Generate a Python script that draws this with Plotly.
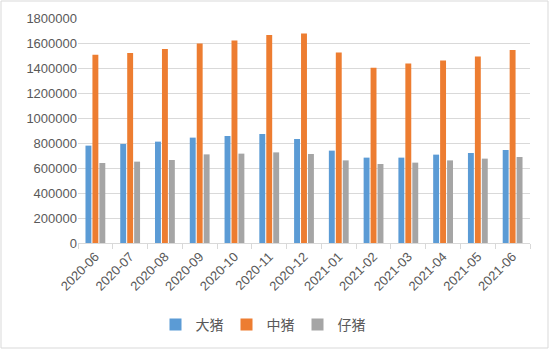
import plotly.graph_objects as go

months = ["2020-06", "2020-07", "2020-08", "2020-09", "2020-10", "2020-11", "2020-12",
          "2021-01", "2021-02", "2021-03", "2021-04", "2021-05", "2021-06"]
da_zhu = [779000, 792000, 811000, 843000, 856000, 872000, 832000,
          739000, 683000, 683000, 707000, 720000, 744000]
zhong_zhu = [1507000, 1520000, 1552000, 1597000, 1621000, 1664000, 1677000,
             1525000, 1403000, 1437000, 1461000, 1493000, 1544000]
zi_zhu = [640000, 651000, 664000, 709000, 715000, 725000, 712000,
          661000, 632000, 643000, 661000, 675000, 688000]
series_names = ["大猪", "中猪", "仔猪"]
colors = ["#5B9BD5", "#ED7D31", "#A5A5A5"]

fig = go.Figure()
for name, vals, c in zip(series_names, [da_zhu, zhong_zhu, zi_zhu], colors):
    fig.add_trace(go.Bar(x=months, y=vals, name=name, marker=dict(color=c, line=dict(width=0))))

fig.update_layout(
    width=550, height=350,
    margin=dict(l=78, r=20, t=18, b=107, autoexpand=False),
    paper_bgcolor="white", plot_bgcolor="white",
    barmode="group", bargap=0.4, bargroupgap=0.15,
    font=dict(family="Liberation Sans, Arial", size=13, color="#595959"),
    legend=dict(orientation="h", xref="container", x=262 / 550, xanchor="center",
                yref="container", y=(350 - 325) / 350, yanchor="middle",
                font=dict(family="Noto Sans CJK SC", size=14, color="#595959"),
                itemwidth=30, entrywidth=26, entrywidthmode="pixels",
                traceorder="normal"),
    showlegend=True,
)
fig.update_xaxes(
    type="category", tickangle=-45, showgrid=False, automargin=False,
    showline=True, linecolor="#D9D9D9", linewidth=1,
    ticks="outside", tickson="boundaries", ticklen=5, tickcolor="#D9D9D9",
    tickfont=dict(size=13, color="#595959"),
)
fig.update_yaxes(
    range=[0, 1800000], dtick=200000, tickformat="d", automargin=False,
    showgrid=True, gridcolor="#D9D9D9", gridwidth=1,
    zeroline=False, showline=False, ticks="",
    tickfont=dict(size=13, color="#595959"),
)
# outer chart border
fig.add_shape(type="rect", xref="paper", yref="paper",
              x0=(1 - 78) / 452, x1=(548 - 78) / 452,
              y0=(243 - 348) / 225, y1=(243 - 1) / 225,
              line=dict(color="#D9D9D9", width=1), layer="below")

fig.write_html("out.html")
